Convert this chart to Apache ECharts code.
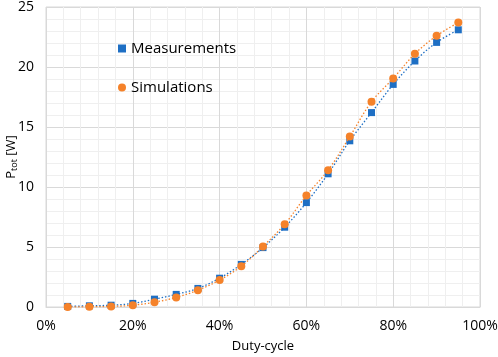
<!DOCTYPE html>
<html>
<head>
<meta charset="utf-8">
<script src="https://cdn.jsdelivr.net/npm/echarts@6/dist/echarts.min.js"></script>
<style>
  html, body { margin: 0; padding: 0; background: #fff; }
  #chart { width: 498px; height: 357px; }
</style>
</head>
<body>
<div id="chart"></div>
<script>
const dutyCycle = [5, 10, 15, 20, 25, 30, 35, 40, 45, 50, 55, 60, 65, 70, 75, 80, 85, 90, 95];
const measurements = [0.05, 0.1, 0.15, 0.3, 0.65, 1.05, 1.55, 2.4, 3.55, 4.95, 6.65, 8.7, 11.1, 13.85, 16.2, 18.55, 20.5, 22.05, 23.1];
const simulations = [0.0, 0.02, 0.05, 0.15, 0.4, 0.8, 1.4, 2.25, 3.4, 5.05, 6.9, 9.3, 11.4, 14.2, 17.1, 19.05, 21.1, 22.6, 23.7];

const font = "'Open Sans', 'Liberation Sans', sans-serif";
const gridColor = "#d9d9d9";
const minorColor = "#efefef";

function _zip(a, b) {
  return a.map((v, i) => [v, b[i]]);
}

const toSeries = (name, values, symbol, color) => ({
  name,
  type: "line",
  data: _zip(dutyCycle, values),
  symbol,
  symbolSize: symbol === "rect" ? 7 : 8,
  smooth: 0.35,
  itemStyle: { color },
  lineStyle: { color, width: 1.3, type: [1.5, 2] },
  z: symbol === "rect" ? 3 : 4
});

const chart = echarts.init(document.getElementById("chart"));
chart.setOption({
  animation: false,
  grid: {
    left: 46, right: 18, top: 7, bottom: 50,
    outerBoundsMode: "none",
    containLabel: false,
    show: true, borderColor: gridColor, borderWidth: 1
  },
  legend: {
    orient: "vertical",
    left: 113,
    top: 36,
    itemGap: 24,
    itemWidth: 8,
    itemHeight: 8,
    textStyle: { fontFamily: font, fontSize: 15, color: "#000" },
    data: [
      { name: "Measurements", icon: "rect", itemStyle: { color: "#1E6FC4" } },
      { name: "Simulations", icon: "circle", itemStyle: { color: "#F5822A" } }
    ]
  },
  xAxis: {
    type: "value",
    min: 0, max: 100, interval: 20,
    name: "Duty-cycle",
    nameLocation: "middle",
    nameGap: 33,
    nameMoveOverlap: false,
    nameTextStyle: { fontFamily: font, fontSize: 13, color: "#000" },
    axisLine: { show: true, lineStyle: { color: gridColor } },
    axisTick: { show: false },
    axisLabel: { formatter: "{value}%", fontFamily: font, fontSize: 14, color: "#000", margin: 12 },
    splitLine: { show: true, lineStyle: { color: gridColor } },
    minorTick: { show: false, splitNumber: 5 },
    minorSplitLine: { show: true, lineStyle: { color: minorColor } }
  },
  yAxis: {
    type: "value",
    min: 0, max: 25, interval: 5,
    name: "{p|P}{s|tot}{p| [W]}",
    nameLocation: "middle",
    nameGap: 27,
    nameMoveOverlap: false,
    nameTextStyle: {
      rich: {
        p: { fontFamily: font, fontSize: 13, color: "#000", lineHeight: 16 },
        s: { fontFamily: font, fontSize: 9, color: "#000", lineHeight: 16, verticalAlign: "bottom" }
      }
    },
    axisLine: { show: false },
    axisTick: { show: false },
    axisLabel: { fontFamily: font, fontSize: 14, color: "#000", margin: 12 },
    splitLine: { show: true, lineStyle: { color: gridColor } },
    minorTick: { show: false, splitNumber: 5 },
    minorSplitLine: { show: true, lineStyle: { color: minorColor } }
  },
  series: [
    toSeries("Measurements", measurements, "rect", "#1E6FC4"),
    toSeries("Simulations", simulations, "circle", "#F5822A")
  ]
});
</script>
</body>
</html>
